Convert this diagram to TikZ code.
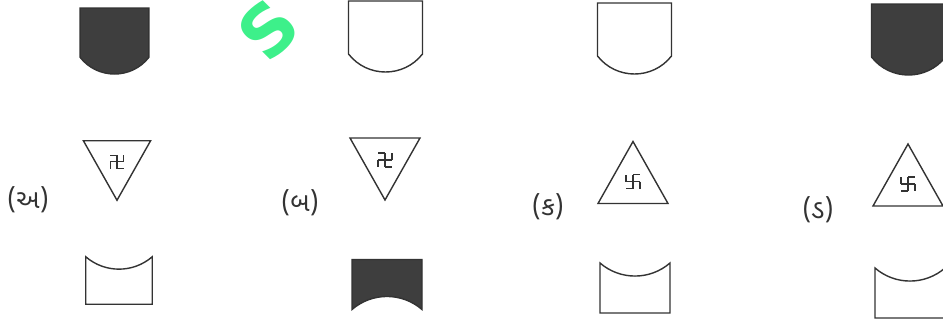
\documentclass[tikz,border=0pt]{standalone}
\usepackage{fontspec}
\newfontfamily\gujfont[Script=Gujarati]{Noto Sans Gujarati UI}
\newfontfamily\markfont{DejaVu Sans}
\usetikzlibrary{positioning}
\definecolor{inkGray}{HTML}{333333}
\definecolor{shadeGray}{HTML}{3E3E3E}
\definecolor{markGreen}{HTML}{3DF08A}

\begin{document}
\begin{tikzpicture}[x=0.02cm, y=-0.02cm,
    line width=0.8pt, draw=inkGray,
    cup/.pic={
      \path[draw, pic actions] (-37,0) -- (37,0) -- (37,53)
        .. controls (18.2,77) and (-18.2,77) .. (-37,53) -- cycle;
    },
    tray/.pic={
      \path[draw, pic actions] (-35,-25)
        .. controls (-14.9,-7.6) and (14.9,-7.6) .. (35,-25)
        -- (35,25) -- (-35,25) -- cycle;
    },
    tri/.pic={
      \path[draw, pic actions] (-35,-31) -- (35,-31) -- (0,31) -- cycle;
      \draw[line width=0.6pt, shift={(0,-9)}]
        (0,-7) -- (0,7) (-7,0) -- (7,0)
        (0,-7) -- (-7,-7) (-7,0) -- (-7,7)
        (0,7) -- (7,7) (7,0) -- (7,-7);
    },
    optlabel/.style={font=\gujfont\fontsize{15}{17}\selectfont, text=inkGray},
  ]
  \useasboundingbox (0,0) rectangle (943,321);

  % watermark
  \node[font=\markfont\bfseries\fontsize{40}{40}\selectfont, text=markGreen,
        rotate=45] (mark) at (268,30) {S};

  % (a)
  \pic[fill=shadeGray, scale=0.93] at (114.5,8) {cup};
  \pic[scale=0.96] at (117,170.5) {tri};
  \pic[scale=0.95] at (119,280.5) {tray};
  \node[optlabel] (optA) at (28,200) {(અ)};

  % (b)
  \pic at (385.5,1) {cup};
  \pic at (385,169) {tri};
  \pic[fill=shadeGray, yscale=-1] at (387,284.5) {tray};
  \node[optlabel] (optB) at (300,203) {(બ)};

  % (c)
  \pic at (634.5,3) {cup};
  \pic[yscale=-1] at (633,172.5) {tri};
  \pic at (635,288) {tray};
  \node[optlabel] (optC) at (548,207) {(ક)};

  % (d)
  \pic[fill=shadeGray] at (908.5,4) {cup};
  \pic[yscale=-1] at (908,175) {tri};
  \pic at (910,293) {tray};
  \node[optlabel] (optD) at (818,210) {(ડ)};
\end{tikzpicture}
\end{document}
